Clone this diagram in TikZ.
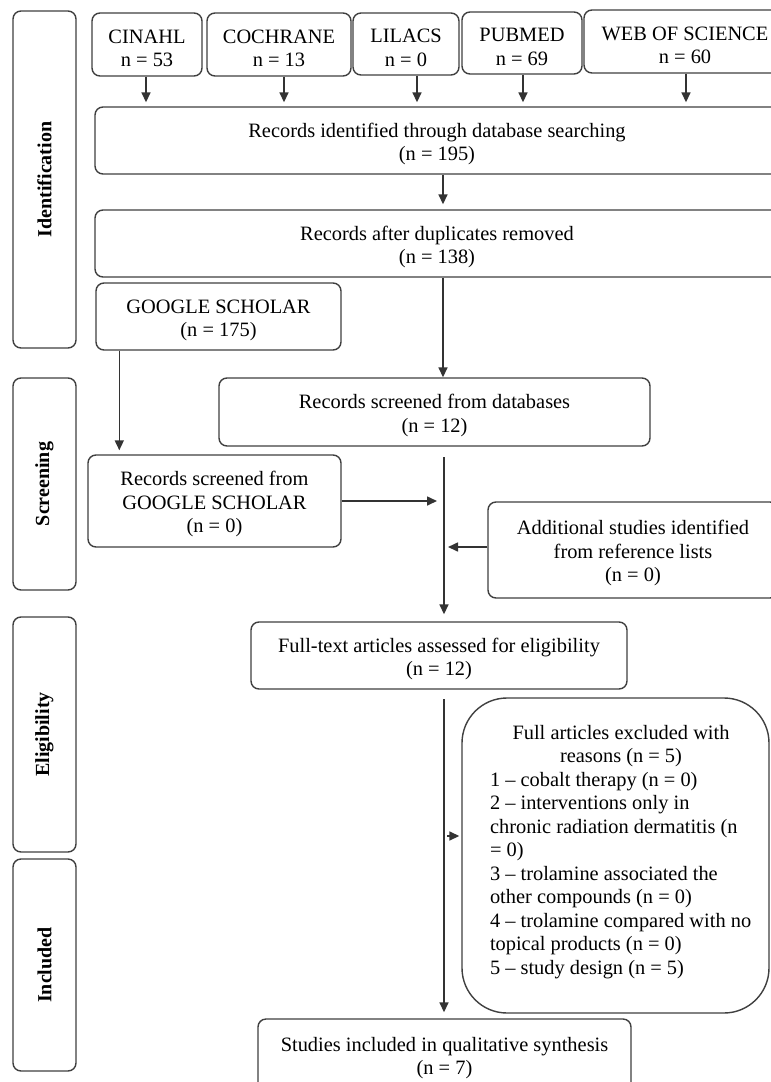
\documentclass[tikz,border=0pt]{standalone}
\usepackage{fontspec}
\setmainfont{Liberation Serif}
\usetikzlibrary{arrows.meta,calc}
\newcommand\myrule{\rule{0pt}{21pt}}
\begin{document}
\begin{tikzpicture}[x=1pt,y=-1pt,
  box/.style={draw=black!75, line width=1.4pt, rounded corners=8pt, align=center,
    inner sep=0pt, font=\fontsize{20.4}{23.5}\selectfont},
  boxt/.style={box},
  side/.style={box, rotate=90, minimum height=63pt, font=\bfseries\fontsize{20}{24}\selectfont},
  arr/.style={draw=black!80, line width=1.6pt, -{Triangle[length=10pt,width=9pt]}}]
\useasboundingbox (0,0) rectangle (771,1082);
\fill[white] (0,0) rectangle (771,1082);
\clip (0,0) rectangle (771,1082);

% side labels
\node[side, minimum width=337pt] (sid) at (44.5,179.5) {Identification};
\node[side, minimum width=212pt] (sscr) at (44.5,484) {Screening};
\node[side, minimum width=235pt] (selig) at (44.5,734.5) {Eligibility};
\node[side, minimum width=212pt] (sincl) at (44.5,965) {Included};

% databases
\node[boxt, minimum width=110pt, minimum height=63pt] (cinahl) at (147,44.5) {\myrule CINAHL\\n = 53};
\node[boxt, minimum width=144pt, minimum height=63pt] (cochrane) at (279,44.5) {\myrule COCHRANE\\n = 13};
\node[boxt, minimum width=106pt, minimum height=62pt] (lilacs) at (406,44) {\myrule LILACS\\n = 0};
\node[boxt, minimum width=120pt, minimum height=62pt] (pubmed) at (522,43) {\myrule PUBMED\\n = 69};
\node[boxt, minimum width=202pt, minimum height=63pt] (wos) at (685,41.5) {\myrule WEB OF SCIENCE\\n = 60};

\node[boxt, minimum width=684pt, minimum height=67pt] (recid) at (437,140.5)
  {\myrule Records identified through database searching\\(n = 195)};
\node[boxt, minimum width=684pt, minimum height=67pt] (recdup) at (437,243.5)
  {\myrule Records after duplicates removed\\(n = 138)};
\node[boxt, minimum width=245pt, minimum height=67pt] (gs) at (218.5,316.5)
  {\myrule GOOGLE SCHOLAR\\(n = 175)};
\node[boxt, minimum width=431pt, minimum height=68pt] (recscr) at (434.5,412)
  {\myrule Records screened from databases\\(n = 12)};
\node[boxt, minimum width=253pt, minimum height=92pt] (gsscr) at (214.5,501)
  {\myrule Records screened from\\GOOGLE SCHOLAR\\(n = 0)};
\node[boxt, minimum width=290pt, minimum height=96pt] (add) at (633,550)
  {\myrule Additional studies identified\\from reference lists\\(n = 0)};
\node[boxt, minimum width=376pt, minimum height=67pt] (full) at (439,655.5)
  {\myrule Full-text articles assessed for eligibility\\(n = 12)};
\node[box, rounded corners=45pt, minimum width=307pt, minimum height=315pt] (excl) at (615.5,855.5) {};
\node[inner sep=0pt, font=\fontsize{20.4}{23.5}\selectfont] (excltxt) at (621,852)
  {\parbox{262pt}{\centering Full articles excluded with\\reasons (n = 5)\par
   \raggedright 1 – cobalt therapy (n = 0)\\
   2 – interventions only in\\
   chronic radiation dermatitis (n\\
   = 0)\\
   3 – trolamine associated the\\
   other compounds (n = 0)\\
   4 – trolamine compared with no\\
   topical products (n = 0)\\
   5 – study design (n = 5)\par}};
\node[boxt, minimum width=373pt, minimum height=71pt] (studies) at (444.5,1054.5)
  {\myrule Studies included in qualitative synthesis\\(n = 7)};

% arrows from databases
\draw[arr, shorten >=4pt] ($(cinahl.south)+(-1,0)$) -- ($(cinahl.south |- recid.north)+(-1,0)$);
\draw[arr, shorten >=4pt] ($(cochrane.south)+(5,0)$) -- ($(cochrane.south |- recid.north)+(5,0)$);
\draw[arr, shorten >=4pt] ($(lilacs.south)+(11,0)$) -- ($(lilacs.south |- recid.north)+(11,0)$);
\draw[arr, shorten >=4pt] ($(pubmed.south)+(1,0)$) -- ($(pubmed.south |- recid.north)+(1,0)$);
\draw[arr, shorten >=4pt] ($(wos.south)+(1,0)$) -- ($(wos.south |- recid.north)+(1,0)$);

\coordinate (a0) at ($(recid.south)+(6,0)$);
\draw[arr, shorten >=5pt] (a0) -- (a0 |- recdup.north);
\coordinate (a1) at ($(recdup.south)+(6,0)$);
\draw[arr] (a1) -- (a1 |- recscr.north);

\coordinate (g1) at ($(gs.south west)+(24,0)$);
\draw[arr, shorten >=4pt] (g1) -- (g1 |- gsscr.north);

\coordinate (j1) at (444,457);
\draw[arr, shorten >=7pt] (j1) -- (j1 |- full.north);
\draw[arr, shorten >=7pt] (gsscr.east) -- (j1 |- gsscr.east);
\coordinate (j2) at ($(add.west)+(0,-3)$);
\draw[arr, shorten >=4pt] (j2) -- (j1 |- j2);

\coordinate (j3) at (444,699);
\draw[arr, shorten >=6pt] (j3) -- (j3 |- studies.north);
\coordinate (j4) at (447,836);
\draw[arr, shorten >=2pt] (j4) -- (j4 -| excl.west);
\end{tikzpicture}
\end{document}
